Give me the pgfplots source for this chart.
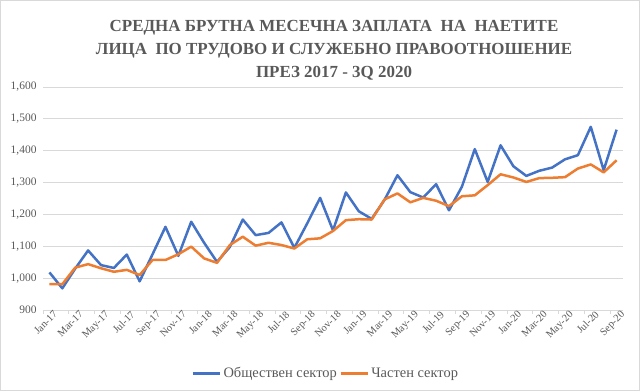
\documentclass[border=0pt]{standalone}
\usepackage{pgfplots}
\pgfplotsset{compat=1.18}
\usepackage{fontspec}
\setmainfont{Liberation Serif}
\definecolor{blueS}{HTML}{4472C4}
\definecolor{orangeS}{HTML}{ED7D31}
\definecolor{txt}{HTML}{595959}
\definecolor{gridc}{HTML}{D9D9D9}
\begin{document}
\begin{tikzpicture}[x=1bp,y=1bp]
\useasboundingbox (0,0) rectangle (640,391);
\draw[gridc, line width=1bp] (0.5,0.5) rectangle (639.5,390.5);
\node[txt, font=\fontsize{17}{23}\selectfont\bfseries, align=center] at (334,341)
  {СРЕДНА БРУТНА МЕСЕЧНА ЗАПЛАТА \ НА \ НАЕТИТЕ\\ЛИЦА \ ПО ТРУДОВО И СЛУЖЕБНО ПРАВООТНОШЕНИЕ\\ПРЕЗ 2017 - 3Q 2020};
\begin{axis}[
  at={(43bp,81bp)}, anchor=south west,
  scale only axis, width=580bp, height=223bp,
  xmin=-0.5, xmax=44.5, ymin=900, ymax=1600,
  axis x line*=bottom, axis y line*=left,
  x axis line style={-, draw=gridc, line width=0.8bp},
  y axis line style={draw=none},
  ytick={900,1000,...,1600},
  ymajorgrids, grid style={gridc, line width=0.8bp},
  major tick length=0pt,
  xtick={0,2,...,44},
  xticklabels={Jan-17,Mar-17,May-17,Jul-17,Sep-17,Nov-17,Jan-18,Mar-18,May-18,Jul-18,Sep-18,Nov-18,Jan-19,Mar-19,May-19,Jul-19,Sep-19,Nov-19,Jan-20,Mar-20,May-20,Jul-20,Sep-20},
  x tick label style={rotate=45, anchor=north east, font=\fontsize{10.5}{12}\selectfont, text=txt, inner sep=0.5bp, xshift=3bp, yshift=-2bp},
  y tick label style={font=\fontsize{11.5}{12}\selectfont, text=txt, xshift=-3bp},
  minor xtick={-0.5,1.5,...,43.5},
  minor tick length=4bp, tick align=outside,
  minor tick style={draw=gridc, line width=0.8bp},
  xminorgrids=false,
  /pgf/number format/.cd, 1000 sep={,}, assume math mode=true,
  /pgfplots/.cd,
  legend columns=2,
  legend style={at={(0.488,-0.285)}, anchor=center, draw=none, fill=none,
    font=\fontsize{14.5}{16}\selectfont, text=txt, /tikz/column sep=0pt,
    nodes={inner xsep=2.5bp}},
  legend image code/.code={\draw[#1, line width=2.5bp] (0,0) -- (27bp,0);},
]
\addplot[blueS, line width=2.5bp, line join=round] coordinates {
(0,1018)(1,968)(2,1030)(3,1087)(4,1041)(5,1032)(6,1074)(7,990)(8,1075)(9,1161)(10,1070)(11,1177)(12,1111)(13,1051)(14,1098)(15,1184)(16,1135)(17,1142)(18,1175)(19,1095)(20,1172)(21,1252)(22,1150)(23,1269)(24,1210)(25,1186)(26,1246)(27,1323)(28,1270)(29,1253)(30,1295)(31,1213)(32,1287)(33,1405)(34,1302)(35,1417)(36,1351)(37,1321)(38,1337)(39,1347)(40,1373)(41,1386)(42,1475)(43,1339)(44,1466)};
\addlegendentry{Обществен сектор\hspace{12bp}}
\addplot[orangeS, line width=2.5bp, line join=round] coordinates {
(0,981)(1,981)(2,1033)(3,1044)(4,1031)(5,1020)(6,1026)(7,1010)(8,1057)(9,1057)(10,1075)(11,1099)(12,1062)(13,1048)(14,1104)(15,1130)(16,1102)(17,1111)(18,1104)(19,1093)(20,1122)(21,1125)(22,1148)(23,1182)(24,1185)(25,1184)(26,1247)(27,1266)(28,1238)(29,1252)(30,1243)(31,1226)(32,1257)(33,1260)(34,1292)(35,1326)(36,1316)(37,1302)(38,1314)(39,1315)(40,1317)(41,1344)(42,1357)(43,1332)(44,1370)};
\addlegendentry{Частен сектор}
\end{axis}
\end{tikzpicture}
\end{document}
